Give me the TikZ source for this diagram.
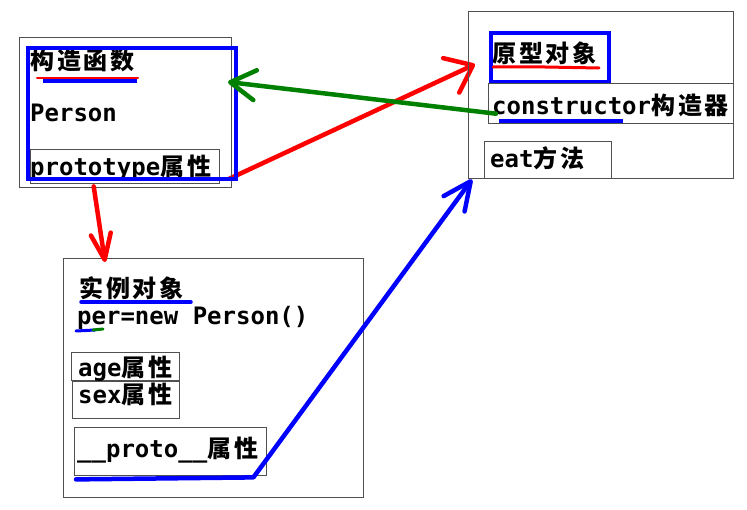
\documentclass[tikz,border=0pt]{standalone}
\usepackage{fontspec}
\setmainfont{DejaVu Sans Mono}
\newfontfamily\cjkfont{Noto Sans CJK SC}[LetterSpace=12]
\newcommand{\zh}[1]{{\cjkfont #1}}
\usetikzlibrary{arrows.meta, backgrounds}
\definecolor{inkgray}{RGB}{80,80,80}
\definecolor{inkgreen}{RGB}{0,128,0}

\begin{document}
\begin{tikzpicture}[
    x=1pt, y=-1pt,
    panel/.style={rectangle, draw=inkgray, line width=1.4pt, inner sep=0pt, anchor=north west},
    hlbox/.style={rectangle, draw=blue, line width=3.6pt, inner sep=0pt, anchor=north west},
    txt/.style={anchor=base west, inner sep=0pt, font=\fontsize{24}{28}\selectfont\bfseries},
    ink/.style={draw=#1, line width=4.5pt, line cap=round, line join=round},
    headbarb/.style={-{Straight Barb[round, #1]}}
]
\useasboundingbox (0,0) rectangle (747,510);

\node[panel, minimum width=212pt, minimum height=150pt] (ctor) at (19,37) {};
\node[txt] (ctortitle) at (30,70) {\zh{构造函数}};
\node[txt] (ctorname) at (30,122) {Person};
\node[panel, minimum width=189pt, minimum height=34pt] (ctorproto) at (30,149) {};
\node[txt] (ctorprototxt) at (30,176) {prototype\zh{属性}};
\node[hlbox, minimum width=208pt, minimum height=131pt] (ctorhl) at (26,46) {};
\draw[red, line width=2pt, line cap=round] (37,78) -- (138,78);
\draw[blue, line width=3.5pt] (43,81) -- (137,81);

\node[panel, minimum width=265pt, minimum height=167pt] (protoobj) at (468,11) {};
\node[txt] (prototitle) at (492,63) {\zh{原型对象}};
\node[hlbox, minimum width=118pt, minimum height=49pt] (protohl) at (489,31) {};
\node[panel, minimum width=245pt, minimum height=40pt] (ctorfield) at (488,83) {};
\node[txt] (ctorfieldtxt) at (492,115) {constructor\zh{构造器}};
\node[panel, minimum width=127pt, minimum height=37pt] (eatfield) at (484,141) {};
\node[txt] (eattxt) at (490,168) {eat\zh{方法}};
\draw[red, line width=3pt, line cap=round] (493,67) -- (545,67) -- (599,68);
\draw[blue, line width=4pt] (499,121) -- (623,121);

\node[panel, minimum width=300pt, minimum height=239pt] (inst) at (63,258) {};
\node[txt] (insttitle) at (79,298) {\zh{实例对象}};
\node[txt] (instnew) at (77,325) {per=new Person()};
\node[panel, minimum width=108pt, minimum height=28pt] (agefield) at (71,352) {};
\node[txt] (agetxt) at (78,377) {age\zh{属性}};
\node[panel, minimum width=107pt, minimum height=37pt] (sexfield) at (72,381) {};
\node[txt] (sextxt) at (78,403) {sex\zh{属性}};
\node[panel, minimum width=192pt, minimum height=48pt] (protofield) at (74,427) {};
\node[txt] (protofieldtxt) at (77,457) {\_\_proto\_\_\zh{属性}};
\draw[red, line width=1pt] (81,304) -- (190,304);
\draw[blue, line width=3.5pt, line cap=round] (81,302) -- (191,302);
\draw[blue, line width=3pt, line cap=round] (76,331) -- (95,330);
\draw[inkgreen, line width=3pt, line cap=round] (93,330) -- (103,329);

\coordinate (greentip) at (228,82);
\coordinate (downtip) at (105,262);
\draw[ink=inkgreen, headbarb={length=25pt, width=30pt}] ([xshift=8pt, yshift=-10pt]ctorfield.west) -- (greentip);
\begin{scope}[on background layer]
\draw[ink=red, headbarb={length=24pt, width=38pt}] ([xshift=-8pt, yshift=2pt]ctorhl.south east) -- ([xshift=-14pt, yshift=-7pt]protohl.west);
\end{scope}
\draw[ink=red, headbarb={length=26pt, width=20pt}] ([xshift=-32pt, yshift=2pt]ctor.south) -- (downtip);
\draw[ink=blue, headbarb={length=28pt, width=26pt}] ([xshift=2pt, yshift=-3pt]protofield.south west) -- ([xshift=-14pt, yshift=-1pt]protofield.south east) -- ([xshift=-12pt]eatfield.south west);
\end{tikzpicture}
\end{document}
